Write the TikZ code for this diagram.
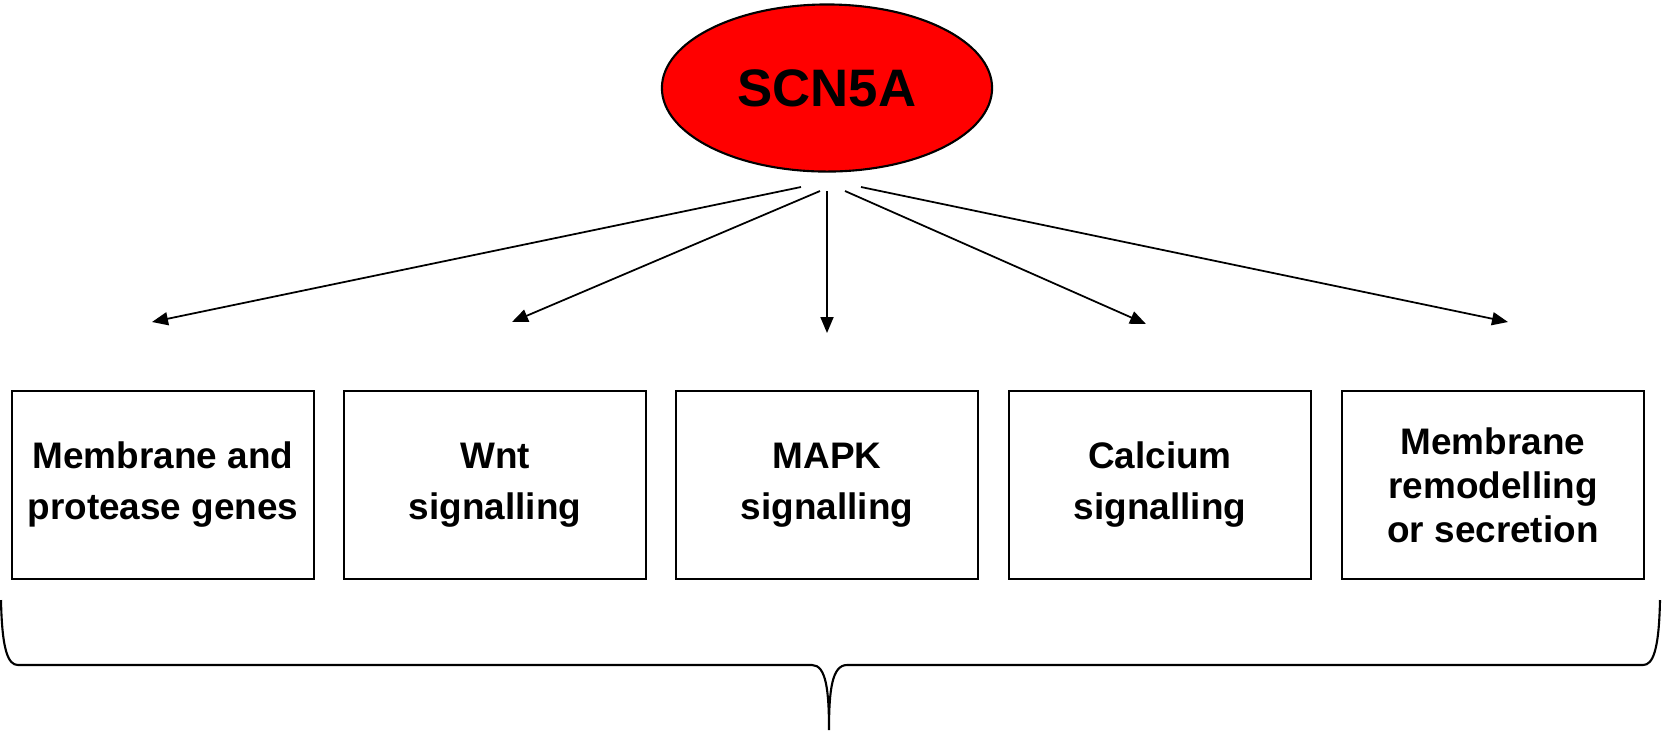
\documentclass[tikz,border=0pt]{standalone}
\usepackage{fontspec}
\setmainfont{Liberation Sans}
\usetikzlibrary{arrows.meta,shapes.geometric}
\tikzset{
  gene/.style = {ellipse, draw, fill=red, line width=.6pt, minimum width=3.3cm,
    minimum height=1.67cm, font=\bfseries\fontsize{15}{18}\selectfont},
  pathway/.style = {rectangle, draw, line width=.6pt, minimum width=3.02cm,
    minimum height=1.88cm, align=center, font=\bfseries\fontsize{10.5}{14.5}\selectfont},
}
\begin{document}
\begin{tikzpicture}[>={Triangle[length=.16cm,width=.13cm]}, x=.01cm, y=-.01cm]
  \useasboundingbox (0,0) rectangle (1663,738);
  \node[gene] (scn) at (827,88) {SCN5A}; % gen
  % cac nhom
  \node[pathway] (memb) at (163,485) {Membrane and\\protease genes};
  \node[pathway] (wnt) at (495,485) {Wnt\\signalling};
  \node[pathway] (mapk) at (827,485) {MAPK\\signalling};
  \node[pathway] (calc) at (1160,485) {Calcium\\signalling};
  \node[pathway, font=\bfseries\fontsize{10.5}{12.5}\selectfont] (remod) at (1493,485)
    {Membrane\\remodelling\\or secretion};
  % mui ten
  \foreach \i/\sx/\sy/\ex/\ey in {1/801/187/152/322, 2/820/191/512/322,
      3/827/191/827/333, 4/845/191/1146/324, 5/861/187/1508/322}{
    \coordinate (s\i) at (\sx,\sy);
    \coordinate (e\i) at (\ex,\ey);
    \draw[->, line width=.5pt] (s\i) -- (e\i);
  }
  % ngoac
  \coordinate (bl) at (1,600);
  \coordinate (br) at (1660,600);
  \coordinate (bt) at (829,730);
  \draw[line width=.6pt] (bl) .. controls (2,650) and (8,665) .. (18,665) -- (812,665)
    .. controls (826,665) and (829,690) .. (bt)
    .. controls (829,690) and (832,665) .. (847,665) -- (1643,665)
    .. controls (1653,665) and (1659,650) .. (br);
\end{tikzpicture}
\end{document}
